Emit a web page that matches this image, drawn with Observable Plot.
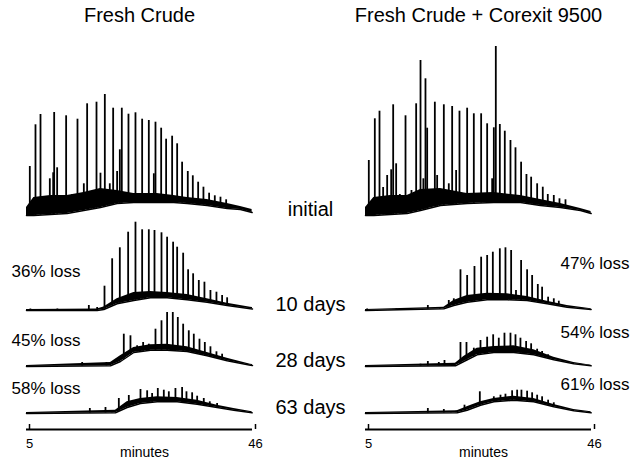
<!DOCTYPE html>
<html><head><meta charset="utf-8">
<script src="https://cdn.jsdelivr.net/npm/d3@7"></script>
<script src="https://cdn.jsdelivr.net/npm/@observablehq/plot@0.6"></script>
<style>body{margin:0;background:#fff}</style>
</head><body><div id="chart"></div>
<script>
// Panels (columns) and sampling times (rows)
const panels = ["Fresh Crude", "Fresh Crude + Corexit 9500"];
const times = ["initial", "10 days", "28 days", "63 days"];
const xTicks = [5, 46];
const xLabel = "minutes";

// Unresolved hump (UCM) envelope: [minutes, lower response, upper response]
const crudeInitialBand = [[5.0,0,8],[6.33,0,18],[9.35,1,20],[12.38,2,20],[15.4,5,23],[18.42,8,27],[21.44,12,25],[24.47,13,22],[28.7,13,22],[31.72,13,20],[34.14,12,18],[37.77,10,16],[41.4,7,12],[43.81,6,9],[45.93,3,6]];
const crude10Band = [[5.0,0,1],[17.82,0,1.5],[19.03,1,3.5],[21.44,6.7,11.7],[24.47,10,18],[27.49,12.7,19],[30.51,12.7,18],[34.14,10.7,16],[37.77,8.3,11.7],[41.4,5,7.3],[45.63,1.7,3.3],[46,1.5,3]];
const crude28Band = [[5.0,0,1],[20.24,0.7,4],[22.05,5,10.7],[24.47,14,19],[27.49,16.3,21.7],[30.51,16.3,22.3],[34.14,15,19.7],[37.77,10.7,14],[41.4,5.7,8.3],[45.63,1.3,2.3],[46,1,2]];
const crude63Band = [[5.0,0,1],[21.14,0.7,3.3],[23.26,6,11.7],[25.68,10,15],[28.7,11.7,16.7],[32.33,11.7,16],[35.96,9.3,13.3],[39.58,6,8.3],[42.61,3.3,5],[45.93,0.7,1.7]];
const corexitInitialBand = [[5.0,0,8],[6.51,0,18],[9.53,1,20],[12.56,2,20],[14.98,5,26],[18.6,10,27],[23.44,12,22],[28.28,13,23],[33.11,13,20],[36.74,10,16],[40.37,8,12],[44.0,5,7],[45.93,2,4]];
const corexit10Band = [[5.0,0,1],[19.21,1.7,3.3],[21.02,5,10],[23.44,8.3,15],[27.07,10.7,17.3],[30.7,10.7,16.7],[34.32,10,14],[37.95,6.7,9.3],[41.58,3.3,5],[45.93,1,1.7]];
const corexit28Band = [[5.0,0,1],[21.32,0.7,3.3],[22.84,5,10],[25.25,11.7,18.3],[28.28,14,20],[31.9,14,20.7],[35.53,11.7,16.7],[39.16,6.7,9.3],[42.79,2.7,4],[45.93,0.7,1.3]];
const corexit63Band = [[5.0,0,1],[21.63,0.7,2.7],[23.44,3.3,6.7],[25.86,8.3,11.7],[28.28,11.7,15],[31.9,13.3,17.3],[35.53,11.7,15],[39.16,6.7,9],[42.79,2.7,4],[45.93,0.7,1.7]];

// Resolved peaks: [minutes, peak response]
const crudeInitialPeaks = [[5.6,49],[6.63,90.7],[7.54,101],[9.23,36.7],[9.84,42.7],[10.02,103],[10.56,47.7],[12.19,99.7],[13.28,21],[14.25,96.3],[15.4,31.7],[16.0,111.7],[16.79,24],[17.7,113.3],[18.42,42.3],[19.21,121],[20.11,31.7],[20.72,107.3],[21.44,44],[21.93,65.7],[22.29,107.3],[23.5,101.3],[24.77,102.7],[25.98,96.3],[27.19,95],[28.1,41.7],[28.4,93.3],[29.43,87.3],[30.33,76.3],[31.42,79.3],[32.33,71.7],[33.23,53.3],[34.26,44],[35.17,39.7],[36.14,33.3],[37.1,28.3],[38.13,22.3],[39.16,19.7],[40.19,18.3],[41.22,15.7]];
const crude10Peaks = [[5.7,1.5],[10.6,1.5],[16.31,5],[17.82,3],[19.15,24.3],[20.54,51.7],[21.93,62.7],[23.44,78.3],[24.77,88.3],[25.98,80.7],[27.19,80.7],[28.22,80],[29.49,77.7],[30.51,73.3],[31.6,68.3],[32.33,63.3],[33.42,57.3],[34.32,40.7],[35.23,36.7],[36.26,30],[37.28,28.3],[38.37,20],[39.46,18.3],[40.49,15],[41.4,12.7]];
const crude28Peaks = [[15.1,4],[19.51,4],[22.65,32.3],[23.86,30.7],[25.07,20.7],[26.16,24],[27.19,22.3],[28.4,37.3],[29.49,45.7],[30.51,54],[31.54,54],[32.45,49],[33.42,42.3],[34.44,35.7],[35.35,32.3],[36.38,27.3],[37.35,24],[38.37,19.7],[39.46,14.7],[40.49,12.3]];
const crude63Peaks = [[16.49,5],[19.33,6],[20.5,2],[21.75,15],[23.56,18],[25.68,24],[26.89,22.7],[27.79,20],[28.82,25],[29.91,23.3],[30.82,21.7],[32.02,25],[33.23,26],[34.02,21.7],[35.05,20.7],[35.96,17.3],[37.16,15],[38.25,11.7],[39.58,10]];
const corexitInitialPeaks = [[5.6,55],[6.69,96.7],[7.54,104.3],[8.2,28],[8.93,40],[9.66,45.7],[10.02,110.7],[10.56,51.7],[11.23,21],[12.26,99.7],[13.34,25],[14.19,111.7],[14.98,155],[15.5,36.7],[15.88,136.7],[16.19,87.3],[17.58,113.3],[18.0,40],[19.21,110.7],[20.11,31.7],[20.72,109],[21.44,45],[22.05,104.3],[23.44,107.3],[24.65,101.7],[25.98,101.7],[27.07,91.7],[27.98,36.7],[28.28,87.7],[28.64,169],[29.37,91],[30.27,84.3],[31.3,75],[32.21,67.7],[33.23,53.3],[34.2,41],[35.05,38.3],[36.14,31.7],[37.16,28.3],[38.07,21],[39.16,20],[40.19,16.7],[41.28,15.7]];
const corexit10Peaks = [[5.3,1.5],[10.6,1.5],[16.31,5],[18.5,3],[20.11,10],[21.02,11.7],[22.23,40.7],[23.44,35],[24.77,44],[25.98,53.3],[27.07,55],[28.1,58.3],[29.37,61.7],[30.39,62.7],[31.42,60],[32.3,20],[33.23,50],[34.32,40.7],[35.23,35],[36.26,26],[37.04,23.3],[38.13,13.3],[39.16,11.7],[40.07,9.3]];
const corexit28Peaks = [[14.98,2.3],[16.31,5],[18.3,4],[19.33,6],[22.23,24],[23.32,24],[24.65,18.3],[25.86,26],[27.07,29.3],[28.16,31.7],[29.18,28.3],[30.21,33.3],[31.3,33.3],[32.21,31.7],[33.11,28.3],[34.14,25],[35.05,22.7],[36.14,17.3],[37.04,15],[38.13,11.7],[39.16,8.3]];
const corexit63Peaks = [[16.31,5],[19.21,4],[20.5,2],[21.5,2.5],[22.96,8.3],[25.74,21.7],[28.28,16.7],[29.49,18.3],[30.39,19.3],[31.6,22.7],[32.51,23.3],[33.29,23.3],[34.32,22.3],[35.23,20.7],[36.14,18.3],[37.04,16.7],[38.13,13.3],[39.16,10.7]];

// Loss annotations
const lossPanel = [panels[0], panels[0], panels[0], panels[1], panels[1], panels[1]];
const lossTime = ["10 days", "28 days", "63 days", "10 days", "28 days", "63 days"];
const lossText = ["36% loss", "45% loss", "58% loss", "47% loss", "54% loss", "61% loss"];

// ---- layout (vertical stacking of traces, in response units) ----
const baseline = {"initial": 214, "10 days": 119, "28 days": 63, "63 days": 16};
const lossRise = [39, 26, 25, 47, 34, 29];

const traces = [
  {panel: panels[0], time: times[0], band: crudeInitialBand, peaks: crudeInitialPeaks},
  {panel: panels[0], time: times[1], band: crude10Band, peaks: crude10Peaks},
  {panel: panels[0], time: times[2], band: crude28Band, peaks: crude28Peaks},
  {panel: panels[0], time: times[3], band: crude63Band, peaks: crude63Peaks},
  {panel: panels[1], time: times[0], band: corexitInitialBand, peaks: corexitInitialPeaks},
  {panel: panels[1], time: times[1], band: corexit10Band, peaks: corexit10Peaks},
  {panel: panels[1], time: times[2], band: corexit28Band, peaks: corexit28Peaks},
  {panel: panels[1], time: times[3], band: corexit63Band, peaks: corexit63Peaks}
];

// lower edge of the hump at a given time (peaks rise from the hump)
function lowerAt(band, m) {
  const i = d3.bisector(d => d[0]).right(band, m);
  if (i <= 0) return band[0][1];
  if (i >= band.length) return band[band.length - 1][1];
  const [m0, l0] = band[i - 1], [m1, l1] = band[i];
  return l0 + (l1 - l0) * (m - m0) / (m1 - m0);
}

const bandRows = traces.flatMap(t => t.band.map(([m, lo, hi]) => ({
  panel: t.panel, key: t.panel + "|" + t.time, minute: m,
  lo: baseline[t.time] + lo, hi: baseline[t.time] + hi
})));
const peakRows = traces.flatMap(t => t.peaks.map(([m, h]) => ({
  panel: t.panel, minute: m,
  y1: baseline[t.time] + lowerAt(t.band, m), y2: baseline[t.time] + h
})));
const dayRows = times.map(t => ({panel: panels[0], label: t, y: baseline[t]}));
const lossRows = lossText.map((s, i) => ({panel: lossPanel[i], label: s, y: baseline[lossTime[i]] + lossRise[i]}));

const chart = Plot.plot({
  width: 631, height: 463,
  marginLeft: 26, marginRight: 40, marginTop: 40, marginBottom: 34,
  style: {fontFamily: "'Liberation Sans', Arial, Helvetica, sans-serif", background: "#fff", color: "#000"},
  fx: {domain: panels, paddingInner: 1/3, paddingOuter: 0},
  x: {domain: [5, 46]},
  y: {domain: [0, 389], axis: null},
  marks: [
    Plot.axisFx({anchor: "top", tickSize: 0, tickPadding: 19, fontSize: 20, label: null}),
    Plot.ruleY([0], {strokeWidth: 2}),
    Plot.axisX({ticks: xTicks, tickSize: -5, tickPadding: 14, fontSize: 13, label: null, dx: 3, strokeWidth: 1.5}),
    Plot.text([xLabel], {frameAnchor: "bottom", dy: 27, dx: 5, fontSize: 14}),
    Plot.areaY(bandRows, {fx: "panel", x: "minute", y1: "lo", y2: "hi", z: "key", fill: "#000"}),
    Plot.lineY(bandRows, {fx: "panel", x: "minute", y: "lo", z: "key", stroke: "#000", strokeWidth: 1.5}),
    Plot.ruleX(peakRows, {fx: "panel", x: "minute", y1: "y1", y2: "y2", stroke: "#000", strokeWidth: 1.8}),
    Plot.text(dayRows, {fx: "panel", y: "y", text: "label", frameAnchor: "right", textAnchor: "middle", dx: 58, dy: -6, fontSize: 20}),
    Plot.text(lossRows.filter(d => d.panel === panels[0]), {fx: "panel", y: "y", text: "label", frameAnchor: "left", textAnchor: "start", dx: -15, fontSize: 17}),
    Plot.text(lossRows.filter(d => d.panel === panels[1]), {fx: "panel", y: "y", text: "label", frameAnchor: "right", textAnchor: "end", dx: 38, fontSize: 17})
  ]
});
document.getElementById("chart").appendChild(chart);
</script>
</body></html>
